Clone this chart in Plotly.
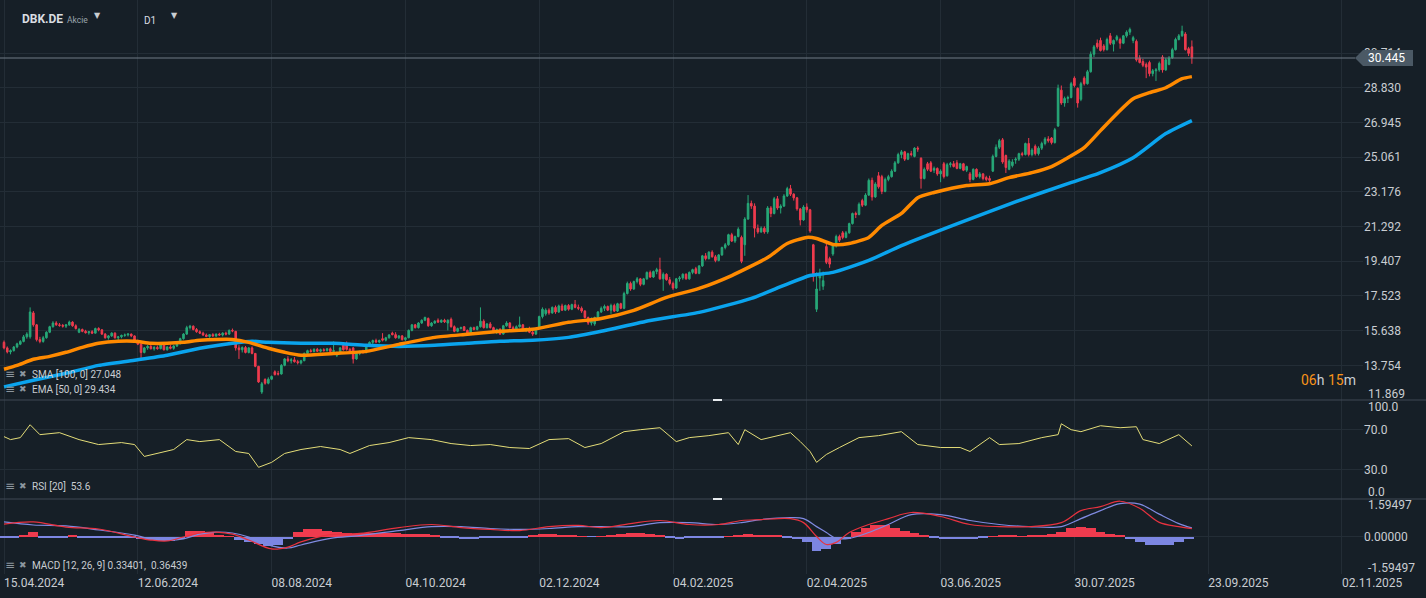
import plotly.graph_objects as go

# ---------------- data ----------------
date_labels = ["15.04.2024", "12.06.2024", "08.08.2024", "04.10.2024", "02.12.2024", "04.02.2025",
               "02.04.2025", "03.06.2025", "30.07.2025", "23.09.2025", "02.11.2025"]
date_label_bar = [0, 41, 82, 123, 164, 205, 246, 287, 328, 369, 410]

open_ = [15.00,14.70,14.48,14.55,14.75,14.90,15.05,15.30,15.30,16.60,
15.95,15.15,15.05,15.25,15.55,15.85,16.05,15.95,15.92,15.88,
15.95,16.10,15.90,15.55,15.70,15.60,15.52,15.58,15.50,15.75,
15.68,15.45,15.25,15.35,15.50,15.25,15.30,15.38,15.40,15.45,
15.35,15.10,14.90,14.45,14.70,14.78,14.65,14.72,14.66,14.88,
14.60,14.75,14.68,14.80,14.92,15.20,15.45,15.80,15.88,15.70,
15.58,15.50,15.40,15.32,15.42,15.35,15.45,15.40,15.50,15.45,
15.65,15.60,14.70,14.60,14.72,14.45,14.70,14.40,13.70,12.30,
12.98,12.78,13.00,13.40,13.30,13.28,13.75,14.10,14.00,14.05,
13.95,13.88,14.00,14.40,14.55,14.50,14.62,14.52,14.60,14.55,
14.65,14.50,14.30,14.45,14.85,14.90,14.62,14.70,14.10,14.40,
14.50,14.45,14.80,15.00,15.10,15.02,15.20,15.12,15.25,15.50,
15.42,15.25,15.35,15.15,15.25,15.65,15.95,15.80,16.05,16.20,
16.30,15.90,16.05,16.20,16.10,16.20,16.05,16.25,15.85,15.60,
15.75,15.85,15.65,15.45,15.80,15.70,15.85,16.15,15.80,16.00,
15.80,15.55,15.70,15.45,15.90,16.05,15.80,15.70,15.85,15.95,
15.65,15.75,15.55,15.45,15.75,16.40,16.55,16.75,16.60,16.90,
16.65,16.98,16.75,17.00,16.80,17.05,16.90,16.85,16.70,16.35,
16.05,16.00,16.35,16.65,16.85,16.95,16.75,17.00,16.70,17.10,
16.85,17.65,18.20,17.90,18.30,18.45,18.15,18.45,18.80,18.55,
18.85,18.95,18.45,18.70,18.40,18.20,17.95,18.45,18.50,18.70,
18.45,18.80,19.00,18.75,19.15,19.70,19.55,19.90,19.65,19.45,
19.75,20.15,20.30,20.85,20.50,20.75,20.70,20.30,21.70,22.55,
22.40,21.20,21.00,21.20,21.00,22.30,22.00,22.80,22.30,22.40,
22.95,23.35,23.05,22.85,22.25,21.65,22.35,22.20,20.30,16.80,
18.50,18.05,20.20,19.55,19.80,20.25,20.75,20.95,20.70,20.95,
21.45,22.00,21.95,22.70,22.45,23.00,23.80,22.90,24.05,24.00,
23.20,23.85,24.00,24.30,24.75,25.20,25.35,24.95,25.25,25.10,
25.55,25.00,23.90,24.70,24.75,
24.35,24.45,24.15,24.70,24.05,24.65,24.70,24.75,24.45,24.70,24.35,
24.15,23.85,24.40,24.00,24.15,23.95,23.90,24.30,25.10,25.60,
26.00,25.15,24.40,24.60,
24.90,24.95,25.25,25.20,25.80,25.20,25.65,25.25,25.55,25.80,
26.05,26.10,25.85,26.75,28.70,28.00,28.25,28.30,29.35,28.80,
28.20,29.35,29.05,29.70,30.65,31.25,31.40,31.10,30.90,31.65,
31.20,31.45,31.45,31.25,31.65,31.85,31.40,31.35,30.45,30.25,
30.10,30.20,29.60,29.75,29.80,30.50,29.80,30.10,30.45,30.90,
31.45,31.65,31.75,30.95,31.05]

high = [15.10,14.78,14.62,14.80,14.98,15.12,15.40,15.55,16.90,16.70,
16.00,15.30,15.35,15.60,15.90,16.15,16.15,16.05,16.00,16.00,
16.18,16.15,15.98,15.78,15.75,15.68,15.62,15.66,15.80,15.82,
15.72,15.50,15.40,15.55,15.55,15.35,15.42,15.48,15.50,15.48,
15.38,15.15,14.95,14.75,14.85,14.88,14.80,14.82,14.92,14.90,
14.78,14.85,14.85,14.98,15.25,15.50,15.90,15.95,15.92,15.78,
15.65,15.58,15.48,15.45,15.50,15.48,15.52,15.55,15.58,15.70,
15.75,15.62,14.85,14.78,14.80,14.75,14.78,14.42,13.72,12.85,
13.05,13.10,13.20,13.48,13.45,13.82,14.15,14.25,14.15,14.20,
14.05,14.05,14.45,14.60,14.65,14.68,14.70,14.66,14.68,14.70,
14.72,15.05,14.50,14.75,14.92,15.05,14.70,14.75,14.45,14.55,
14.60,14.85,15.05,15.15,15.20,15.15,15.50,15.30,15.45,15.58,
15.55,15.40,15.40,15.30,15.70,16.00,16.00,16.10,16.25,16.40,
16.35,16.10,16.20,16.30,16.25,16.28,16.25,16.35,15.92,15.80,
15.85,15.88,15.70,15.85,15.85,15.90,16.90,16.25,16.05,16.10,
15.85,15.75,15.78,15.95,16.15,16.10,15.90,15.92,16.40,16.00,
15.80,15.85,15.70,15.80,16.45,16.90,16.85,16.85,16.95,17.00,
17.05,17.10,17.05,17.08,17.10,17.30,17.05,16.95,16.75,16.40,
16.35,16.40,16.70,16.95,17.05,17.00,17.10,17.10,17.15,17.15,
17.75,18.30,18.30,18.35,18.55,18.50,18.50,18.85,18.90,18.90,
19.05,19.60,18.80,18.75,18.55,18.30,18.50,18.60,18.75,18.75,
18.85,19.00,19.10,19.20,19.75,19.85,19.95,20.00,19.75,19.80,
20.20,20.40,20.90,20.95,20.80,21.25,20.80,21.80,23.00,22.70,
22.55,21.40,21.30,21.30,22.40,22.40,22.90,22.95,22.50,23.05,
23.45,23.55,23.10,22.90,22.30,22.45,22.55,22.25,20.35,18.80,
19.00,18.85,20.35,19.65,20.35,20.85,20.85,21.05,21.05,21.50,
22.05,22.10,22.60,22.80,23.10,23.90,23.95,23.70,24.25,24.10,
23.95,24.10,24.40,24.85,25.30,25.45,25.40,25.30,25.40,25.60,
25.65,25.05,24.50,24.80,24.85,
24.55,24.50,24.40,24.80,24.75,24.80,24.85,24.90,24.75,24.75,24.60,
24.25,24.45,24.45,24.25,24.20,24.05,24.05,25.20,25.75,26.05,
26.10,25.20,24.95,24.95,
25.05,25.30,25.35,25.85,26.10,25.55,25.75,25.65,25.90,26.15,
26.20,26.15,26.65,29.00,28.95,28.35,28.40,29.15,29.45,28.85,
29.15,29.45,29.80,30.80,31.15,31.45,31.55,31.20,31.55,31.80,
31.45,31.70,31.55,31.70,31.95,32.10,31.65,31.45,30.60,30.40,
30.20,30.30,29.85,29.90,30.25,30.60,30.45,30.55,31.00,31.55,
31.75,32.20,31.85,31.05,31.40]

low = [14.62,14.40,14.35,14.50,14.68,14.85,15.00,15.20,15.20,15.85,
15.05,14.95,14.98,15.20,15.50,15.80,15.90,15.85,15.80,15.78,
15.90,15.85,15.70,15.50,15.55,15.48,15.42,15.45,15.48,15.60,
15.40,15.20,15.15,15.30,15.20,15.10,15.22,15.30,15.32,15.28,
15.05,14.85,14.15,14.40,14.60,14.62,14.55,14.60,14.62,14.55,
14.55,14.62,14.60,14.75,14.90,15.15,15.40,15.70,15.65,15.52,
15.45,15.35,15.28,15.25,15.30,15.28,15.35,15.32,15.38,15.40,
15.55,14.55,14.10,14.45,14.40,14.40,14.35,13.65,12.80,12.20,
12.70,12.72,12.95,13.20,13.20,13.25,13.70,13.92,13.85,13.90,
13.80,13.80,13.98,14.35,14.45,14.45,14.48,14.45,14.50,14.50,
14.45,14.45,14.20,14.40,14.55,14.55,14.40,13.85,14.05,14.30,
14.38,14.40,14.75,14.90,14.95,14.95,15.05,15.05,15.20,15.38,
15.20,15.18,15.10,15.08,15.22,15.60,15.75,15.75,16.00,16.15,
15.85,15.85,16.00,16.05,16.05,16.05,15.65,15.80,15.55,15.55,
15.70,15.62,15.40,15.42,15.65,15.65,15.80,15.75,15.75,15.75,
15.50,15.45,15.40,15.42,15.85,15.75,15.65,15.65,15.80,15.60,
15.55,15.50,15.35,15.40,15.70,16.30,16.45,16.50,16.55,16.55,
16.60,16.70,16.70,16.72,16.75,16.85,16.75,16.60,16.30,15.95,
15.92,15.90,16.30,16.60,16.70,16.70,16.55,16.65,16.65,16.80,
16.80,17.60,17.80,17.85,18.20,18.05,18.10,18.40,18.50,18.50,
18.70,18.40,17.80,18.35,18.10,17.85,17.90,18.30,18.40,18.40,
18.40,18.70,18.70,18.70,19.10,19.45,19.50,19.60,19.35,19.40,
19.70,20.05,20.25,20.45,20.40,20.70,19.30,19.70,21.65,22.25,
20.70,20.90,20.95,20.90,20.90,21.80,21.95,22.20,22.00,22.35,
22.90,22.95,22.70,22.15,21.35,21.60,22.05,20.95,18.30,16.65,
17.80,17.85,19.25,19.05,19.70,20.15,20.45,20.60,20.65,20.90,
21.40,21.75,21.90,22.35,22.40,22.95,22.70,22.85,23.35,23.05,
23.15,23.75,23.95,24.25,24.70,25.00,24.85,24.90,25.10,25.05,
25.35,23.35,23.85,24.30,24.25,
24.20,24.05,23.70,23.90,24.00,24.50,24.50,24.40,24.40,24.30,24.25,
23.70,23.80,23.95,23.90,23.80,23.75,23.70,24.25,25.05,25.50,
24.70,24.20,24.35,24.50,
24.70,24.85,25.10,25.15,25.10,25.10,25.15,25.15,25.45,25.70,
25.85,25.75,25.80,26.70,27.90,27.80,28.00,28.25,28.85,27.75,
28.10,28.95,29.00,29.65,30.50,30.95,30.80,30.80,30.85,31.15,
30.80,31.35,30.95,31.20,31.55,31.70,31.25,30.25,30.15,29.95,
29.35,29.45,29.45,29.20,29.70,29.65,29.75,30.05,30.40,30.85,
31.40,31.60,30.85,30.55,30.13]

close = [14.70,14.48,14.55,14.75,14.92,15.05,15.30,15.45,16.65,15.95,
15.15,15.05,15.25,15.55,15.85,16.05,15.95,15.92,15.88,15.95,
16.10,15.90,15.75,15.70,15.60,15.52,15.58,15.50,15.75,15.68,
15.45,15.25,15.35,15.50,15.25,15.30,15.38,15.40,15.45,15.35,
15.10,14.90,14.45,14.70,14.78,14.65,14.72,14.66,14.88,14.60,
14.75,14.68,14.80,14.92,15.20,15.45,15.80,15.88,15.70,15.58,
15.50,15.40,15.32,15.42,15.35,15.45,15.40,15.50,15.45,15.65,
15.62,14.70,14.60,14.72,14.45,14.70,14.40,13.70,12.85,12.75,
12.78,13.00,13.15,13.25,13.28,13.75,14.10,14.00,14.05,13.95,
13.90,14.00,14.40,14.55,14.50,14.62,14.52,14.60,14.55,14.65,
14.50,14.55,14.45,14.70,14.60,14.62,14.45,14.10,14.40,14.50,
14.45,14.80,15.00,15.10,15.02,15.10,15.12,15.25,15.40,15.42,
15.25,15.35,15.15,15.25,15.65,15.95,15.80,16.05,16.20,16.35,
15.90,16.05,16.15,16.10,16.20,16.12,16.20,15.85,15.60,15.75,
15.80,15.65,15.45,15.80,15.70,15.85,16.15,15.80,16.00,15.80,
15.55,15.70,15.45,15.90,16.05,15.80,15.70,15.85,15.95,15.65,
15.75,15.55,15.45,15.75,16.40,16.80,16.75,16.60,16.90,16.65,
16.98,16.75,17.00,16.80,17.05,16.90,16.85,16.70,16.35,16.05,
16.30,16.35,16.65,16.85,16.95,16.75,17.00,16.70,17.10,16.85,
17.65,18.20,17.90,18.30,18.45,18.15,18.45,18.80,18.55,18.85,
18.95,18.45,18.70,18.40,18.20,17.95,18.45,18.50,18.70,18.45,
18.80,18.95,18.75,19.15,19.70,19.55,19.90,19.65,19.45,19.75,
20.15,20.30,20.85,20.50,20.75,21.15,19.40,21.70,22.55,22.40,
21.20,21.00,21.20,21.00,22.30,22.00,22.80,22.30,22.40,22.95,
23.35,23.05,22.85,22.25,21.65,22.35,22.20,21.05,18.60,17.90,
18.75,18.35,19.35,19.25,20.25,20.75,20.55,20.70,20.95,21.45,
22.00,21.95,22.50,22.45,23.00,23.80,22.90,23.60,23.45,23.20,
23.85,24.00,24.30,24.75,25.20,25.35,24.95,25.25,25.20,25.55,
25.50,23.90,24.40,24.40,24.30,
24.45,24.15,24.30,24.00,24.65,24.70,24.55,24.45,24.70,24.35,24.55,
23.85,24.40,24.00,24.15,23.90,23.85,23.80,25.10,25.60,25.95,
24.80,24.50,24.85,24.80,
24.95,25.25,25.20,25.80,25.20,25.45,25.25,25.55,25.80,26.05,
25.95,25.85,26.55,28.80,28.00,28.25,28.30,29.05,28.95,28.00,
29.05,29.05,29.70,30.65,31.05,31.05,30.85,30.90,31.45,31.25,
31.40,31.60,31.25,31.65,31.85,32.00,31.55,30.35,30.20,30.05,
29.95,29.60,29.75,29.80,30.15,29.80,30.35,30.45,30.90,31.45,
31.65,31.90,30.90,30.70,30.445]

assert len(open_) == len(high) == len(low) == len(close), (len(open_), len(high), len(low), len(close))
bars = list(range(len(close)))

sma_bar = [0,9,19,29,40,50,60,70,76,81,91,101,111,121,132,142,152,162,173,183,198,213,229,239,247,254,265,275,293,311,326,336,346,356,364]
sma_val = [12.58,12.94,13.32,13.75,14.03,14.30,14.68,14.95,15.06,15.00,14.95,14.95,14.84,14.78,14.84,14.95,15.06,15.11,15.27,15.60,
           16.19,16.63,17.39,18.09,18.63,18.80,19.45,20.26,21.51,22.70,23.62,24.22,25.03,26.34,27.048]

ema_bar = [0,4,9,14,19,24,29,35,40,45,50,55,60,65,70,75,81,86,91,101,111,121,132,142,152,162,173,183,193,203,
           213,223,234,240,246,249,254,259,265,269,275,280,285,295,302,308,315,321,326,331,336,341,346,351,356,361,364]
ema_val = [13.54,13.75,14.08,14.24,14.46,14.73,14.95,15.06,15.06,14.95,14.95,15.00,15.11,15.16,15.16,15.00,14.68,14.46,14.30,14.40,
           14.51,14.89,15.27,15.44,15.60,15.71,16.09,16.30,16.74,17.44,17.93,18.63,19.61,20.37,20.70,20.64,20.32,20.37,20.70,21.35,
           22.00,22.86,23.14,23.52,23.62,23.95,24.22,24.55,25.03,25.58,26.50,27.42,28.23,28.56,28.83,29.32,29.434]

rsi_bar = [0,2,5,8,11,14,17,23,29,36,40,43,48,52,56,60,66,71,75,78,82,86,91,97,103,106,112,118,124,131,
           137,143,149,155,161,167,173,178,183,190,195,201,206,210,216,222,225,227,232,238,241,244,247,249,252,256,262,268,275,280,
           287,293,296,302,305,311,318,323,324,327,330,336,342,347,349,354,360,364]
rsi_val = [63,60,62,75,65,66,67,60,55,57,55,43,47,50,60,58,60,48,46,32,37,46,50,53,50,46,54,57,62,60,
           56,54,55,52,51,60,61,52,56,68,70,72,58,62,64,67,55,70,60,65,67,58,48,37,45,52,62,64,68,55,
           52,52,48,62,55,56,62,65,76,70,68,74,72,73,60,56,65,53.6]

macd_bar = [0,9,19,29,40,45,50,55,60,65,70,75,82,87,91,100,109,121,131,140,149,158,167,176,183,192,201,210,219,226,
            232,241,245,249,252,255,259,265,271,278,287,296,305,314,324,330,336,342,348,354,360,364]
macd_val = [0.53,0.62,0.40,0.32,-0.02,-0.15,-0.19,-0.02,0.15,0.19,0.10,-0.15,-0.53,-0.45,-0.23,0.08,0.13,0.38,0.51,0.38,
            0.30,0.25,0.42,0.47,0.38,0.55,0.68,0.51,0.51,0.68,0.72,0.76,0.59,0.0,-0.34,-0.25,0.17,0.51,0.76,1.02,
            0.85,0.51,0.42,0.42,0.59,1.10,1.27,1.50,1.20,0.60,0.42,0.334]
signal_val = [0.62,0.49,0.45,0.28,0.06,-0.10,-0.15,-0.10,0.10,0.19,0.15,-0.02,-0.40,-0.49,-0.36,-0.08,0.04,0.25,0.42,0.42,
              0.34,0.30,0.34,0.42,0.42,0.42,0.59,0.59,0.51,0.59,0.72,0.80,0.76,0.42,0.17,-0.08,-0.08,0.17,0.51,0.93,
              0.93,0.68,0.51,0.42,0.42,0.76,1.10,1.40,1.38,0.95,0.55,0.364]
hist_step = 3
hist_val = [-0.08,-0.08,0.05,0.2,-0.04,-0.04,-0.03,0.06,-0.05,-0.06,
            -0.06,-0.07,-0.06,-0.08,-0.12,-0.15,-0.18,-0.2,-0.1,0.22,
            0.25,0.2,0.05,0.02,-0.15,-0.22,-0.3,-0.42,-0.35,-0.1,
            0.2,0.3,0.3,0.25,0.18,0.15,0.12,0.15,0.16,0.15,
            0.13,0.12,0.12,0.1,0.05,-0.03,-0.08,-0.1,-0.1,-0.08,
            -0.08,-0.07,-0.06,-0.05,0.05,0.12,0.12,0.08,0.05,0.02,
            -0.02,0.02,0.08,0.12,0.15,0.15,0.12,0.08,-0.05,-0.1,
            -0.08,-0.06,-0.05,-0.03,0.02,0.05,0.1,0.08,0.06,0.05,
            -0.03,-0.12,-0.25,-0.6,-0.55,-0.3,-0.1,0.2,0.35,0.5,
            0.5,0.35,0.25,0.15,0.05,-0.05,-0.1,-0.12,-0.12,-0.1,
            -0.06,0.02,0.05,0.03,0.02,0.03,0.05,0.1,0.2,0.35,
            0.4,0.35,0.2,0.12,0.05,-0.1,-0.25,-0.35,-0.38,-0.35,
            -0.25,-0.1]
hist_bar = [hist_step * k for k in range(len(hist_val))]

price_ticks = [13.754, 15.638, 17.523, 19.407, 21.292, 23.176, 25.061, 26.945, 28.830, 30.714]
price_min, price_top = 11.869, 33.596
rsi_ticks = [70, 30]
macd_lim = 1.59497

sma_label = "SMA [100, 0] 27.048"
ema_label = "EMA [50, 0] 29.434"
rsi_label = "RSI [20]  53.6"
macd_label = "MACD [12, 26, 9] 0.33401,  0.36439"

# ---------------- styling / layout ----------------
W, H = 1426, 598
MR, MB = 63, 24
PW, PH = W - MR, H - MB
BG = "#161f27"
GRID = "#232d36"
SEP = "#3e4954"
TXT = "#c9cdd2"
GREEN = "#27a878"
RED = "#ef3b4e"
ORANGE = "#ff8a00"
BLUE = "#0aa4ee"
FONT = "Roboto"


def pxx(x):
    return x / PW


def pyy(y):
    return 1 - y / PH


bar_px = 3.2634
x_lo = -4 / bar_px
x_hi = (PW - 4) / bar_px

fig = go.Figure()
fig.add_trace(go.Candlestick(
    x=bars, open=open_, high=high, low=low, close=close,
    increasing=dict(line=dict(color=GREEN, width=1), fillcolor=GREEN),
    decreasing=dict(line=dict(color=RED, width=1), fillcolor=RED),
    whiskerwidth=0, xaxis="x", yaxis="y", hoverinfo="skip"))
fig.add_trace(go.Scatter(x=sma_bar, y=sma_val, mode="lines", line=dict(color=BLUE, width=3.5, shape="spline", smoothing=0.6),
                         xaxis="x", yaxis="y", hoverinfo="skip"))
fig.add_trace(go.Scatter(x=ema_bar, y=ema_val, mode="lines", line=dict(color=ORANGE, width=3.5, shape="spline", smoothing=0.6),
                         xaxis="x", yaxis="y", hoverinfo="skip"))
fig.add_trace(go.Scatter(x=rsi_bar, y=rsi_val, mode="lines", line=dict(color="#e4dd78", width=1),
                         xaxis="x", yaxis="y2", hoverinfo="skip"))
fig.add_trace(go.Bar(x=hist_bar, y=hist_val, width=hist_step,
                     marker=dict(color=[RED if v >= 0 else "#7c86e2" for v in hist_val], line=dict(width=0)),
                     xaxis="x", yaxis="y3", hoverinfo="skip"))
fig.add_trace(go.Scatter(x=macd_bar, y=signal_val, mode="lines", line=dict(color="#7f8ae0", width=1.2, shape="spline"),
                         xaxis="x", yaxis="y3", hoverinfo="skip"))
fig.add_trace(go.Scatter(x=macd_bar, y=macd_val, mode="lines", line=dict(color="#e8323f", width=1.2, shape="spline"),
                         xaxis="x", yaxis="y3", hoverinfo="skip"))

axis_common = dict(showline=False, zeroline=False, ticks="", gridcolor=GRID, gridwidth=1,
                   tickfont=dict(family=FONT, size=12, color=TXT), fixedrange=True)

fig.update_layout(
    width=W, height=H, paper_bgcolor=BG, plot_bgcolor=BG, showlegend=False,
    margin=dict(l=0, r=MR, t=0, b=MB), bargap=0,
    font=dict(family=FONT, color=TXT),
    xaxis=dict(domain=[0, 1], range=[x_lo, x_hi], anchor="y3", tickmode="array",
               tickvals=date_label_bar, ticktext=date_labels, ticklabelposition="outside right",
               showgrid=True, rangeslider=dict(visible=False), **axis_common),
    yaxis=dict(domain=[pyy(400), 1], range=[price_min, price_top], side="right", anchor="x",
               tickmode="array", tickvals=price_ticks, ticktext=[f"{v:.3f}" for v in price_ticks], **axis_common),
    yaxis2=dict(domain=[pyy(499), pyy(400)], range=[0, 100], side="right", anchor="x",
                tickmode="array", tickvals=rsi_ticks, ticktext=[f"{v:.1f}" for v in rsi_ticks], **axis_common),
    yaxis3=dict(domain=[0, pyy(499)], range=[-macd_lim, macd_lim], side="right", anchor="x",
                tickmode="array", tickvals=[0], ticktext=["0.00000"], **axis_common),
)

shapes = []
last = close[-1]
half = 8 * (price_top - price_min) / 400
# last-price line and tag
shapes.append(dict(type="line", xref="paper", yref="y", x0=0, x1=pxx(1355), y0=last, y1=last,
                   line=dict(color="#6e7a85", width=1), layer="above"))
shapes.append(dict(type="path", xref="paper", yref="y", fillcolor="#4b5965", line=dict(width=0), layer="above",
                   path=f"M {pxx(1355)},{last} L {pxx(1363)},{last + half} L {pxx(1413)},{last + half} "
                        f"L {pxx(1413)},{last - half} L {pxx(1363)},{last - half} Z"))
# pane separators and handles
for ysep in (400, 499):
    shapes.append(dict(type="line", xref="paper", yref="paper", x0=0, x1=pxx(W), y0=pyy(ysep), y1=pyy(ysep),
                       line=dict(color=SEP, width=1), layer="above"))
    shapes.append(dict(type="line", xref="paper", yref="paper", x0=pxx(713), x1=pxx(722), y0=pyy(ysep), y1=pyy(ysep),
                       line=dict(color="#e8ecef", width=2), layer="above"))
fig.update_layout(shapes=shapes)

ann = []


def txt(x, y, s, size=11, color=TXT, anchor="left", family=FONT):
    ann.append(dict(xref="paper", yref="paper", x=pxx(x), y=pyy(y), text=s, showarrow=False,
                    xanchor=anchor, yanchor="middle", font=dict(family=family, size=size, color=color)))


# header
txt(20, 19, "<b>DBK.DE</b>", size=12, color="#d9dde1")
txt(65, 20, "Akcie", size=8.5, color="#9ba5ad")
txt(92, 16, "▼", size=8, color="#c9cdd2", family="DejaVu Sans")
txt(142, 20, "D1", size=10, color="#d9dde1")
txt(169, 16, "▼", size=8, color="#c9cdd2", family="DejaVu Sans")
# indicator legends
for yy, lab in ((374, sma_label), (389, ema_label), (486, rsi_label), (565, macd_label)):
    txt(3, yy, "≡", size=12, color="#8c969e", family="DejaVu Sans")
    txt(17, yy, "✖", size=9, color="#8c969e", family="DejaVu Sans")
    txt(30, yy, lab, size=10, color=TXT)
# edge value labels
txt(1366, 394, f"{price_min:.3f}", size=12)
txt(1366, 407, "100.0", size=12)
txt(1366, 492, "0.0", size=12)
txt(1366, 505, f"{macd_lim:.5f}", size=12)
txt(1366, 568, f"-{macd_lim:.5f}", size=12)
# last price tag text
ann.append(dict(xref="paper", yref="y", x=pxx(1366), y=last, text=f"{last:.3f}", showarrow=False,
                xanchor="left", yanchor="middle", font=dict(family=FONT, size=12, color="#ffffff")))
# countdown
txt(1358, 380, "<span style='color:#f7931a'>06</span>h <span style='color:#f7931a'>15</span>m",
    size=14, color="#c9cdd2", anchor="right")
fig.update_layout(annotations=ann)

fig.write_html("out.html", config={"displayModeBar": False},
               post_script="document.body.style.margin='0';document.body.style.background='" + BG + "';")
